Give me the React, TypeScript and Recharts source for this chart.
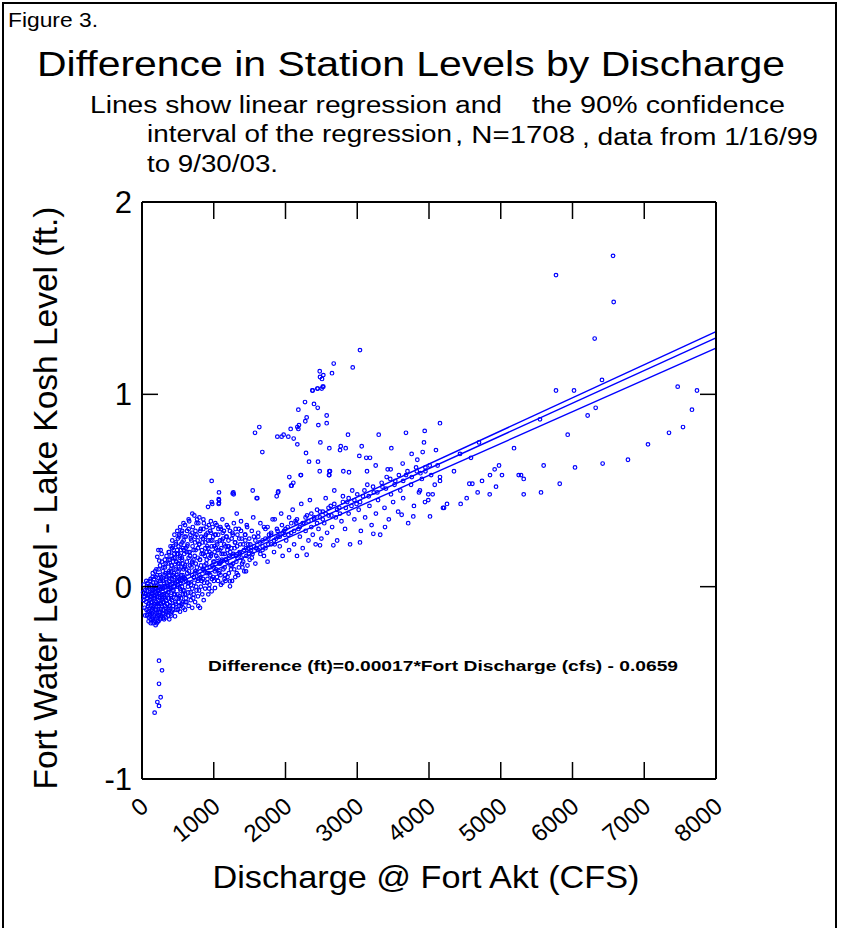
import { ComposedChart, Scatter, Line, XAxis, YAxis } from "recharts";

const xTicks = [0, 1000, 2000, 3000, 4000, 5000, 6000, 7000, 8000];
const yTicks = [-1, 0, 1, 2];

// discharge (cfs), level difference (ft)
const lowTail: [number, number][] = [
  [176, -0.655], [214, -0.6], [237, -0.62], [260, -0.575], [237, -0.505], [279, -0.435], [237, -0.385],
];

const coreRows: [number, number][] = [
  [20, -0.07], [35, -0.11], [15, -0.03], [45, -0.15], [25, 0.01],
  [150, -0.19], [190, -0.2], [205, -0.19], [230, -0.18], [170, -0.18], [120, -0.17], [250, -0.17], [297, -0.163],
  [95, -0.16], [330, -0.16], [380, -0.17], [410, -0.15], [460, -0.154], [270, -0.15], [210, -0.15],
  [80, -0.13], [110, -0.14], [140, -0.12], [160, -0.13], [185, -0.14], [220, -0.12], [255, -0.13], [300, -0.12],
  [340, -0.14], [370, -0.12], [420, -0.13], [500, -0.12], [530, -0.13], [576, -0.11], [600, -0.12], [650, -0.1],
  [700, -0.11], [785, -0.1], [808, -0.11], [540, -0.1],
  [60, -0.08], [90, -0.09], [130, -0.1], [175, -0.09], [200, -0.08], [235, -0.1], [265, -0.09], [290, -0.08],
  [320, -0.1], [355, -0.09], [390, -0.08], [430, -0.1], [470, -0.09], [510, -0.08], [560, -0.09], [620, -0.08],
  [680, -0.07], [740, -0.08], [860, -0.07], [924, -0.04],
  [30, -0.05], [50, -0.04], [75, -0.06], [105, -0.05], [145, -0.04], [180, -0.06], [215, -0.05], [245, -0.04],
  [280, -0.06], [310, -0.05], [345, -0.04], [375, -0.06], [405, -0.05], [445, -0.04], [480, -0.06], [520, -0.05],
  [570, -0.04], [610, -0.06], [660, -0.05], [720, -0.04], [780, -0.05], [840, -0.04], [971, -0.024], [1017, -0.007],
  [40, -0.02], [70, 0.0], [100, -0.01], [135, -0.02], [165, 0.0], [195, -0.01], [225, -0.02], [260, 0.0],
  [295, -0.01], [330, -0.02], [365, 0.0], [400, -0.01], [440, -0.02], [490, 0.0], [530, -0.01], [590, -0.02],
  [640, 0.0], [700, -0.01], [760, -0.02], [820, 0.0], [880, -0.01], [940, 0.01], [1100, 0.01], [1226, 0.002],
  [60, 0.03], [120, 0.04], [155, 0.02], [190, 0.05], [230, 0.03], [270, 0.04], [305, 0.02], [340, 0.05],
  [380, 0.03], [420, 0.04], [460, 0.02], [500, 0.05], [550, 0.03], [600, 0.04], [660, 0.02], [720, 0.05],
  [780, 0.03], [850, 0.04], [910, 0.02], [990, 0.05], [1060, 0.03], [1150, 0.04], [1226, 0.028], [1300, 0.05],
  [150, 0.07], [200, 0.09], [250, 0.06], [290, 0.08], [320, 0.1], [360, 0.07], [400, 0.09], [430, 0.06],
  [470, 0.1], [510, 0.08], [545, 0.06], [580, 0.09], [630, 0.07], [690, 0.1], [740, 0.08], [800, 0.06],
  [860, 0.09], [930, 0.07], [1000, 0.1], [1080, 0.08], [1160, 0.06], [1240, 0.09], [1320, 0.07], [1400, 0.1], [1450, 0.08],
  [213, 0.155], [241, 0.135], [330, 0.12], [370, 0.14], [410, 0.11], [440, 0.15], [480, 0.13], [520, 0.12],
  [560, 0.14], [600, 0.11], [650, 0.15], [700, 0.13], [750, 0.12], [810, 0.14], [870, 0.11], [940, 0.15],
  [1010, 0.13], [1090, 0.12], [1170, 0.14], [1250, 0.11], [1330, 0.15], [1410, 0.13], [1500, 0.14], [1580, 0.12],
  [228, 0.19], [260, 0.19], [274, 0.17], [380, 0.18], [420, 0.2], [450, 0.17], [490, 0.19], [530, 0.16],
  [570, 0.2], [620, 0.18], [670, 0.16], [720, 0.19], [780, 0.2], [830, 0.17], [900, 0.18], [960, 0.16],
  [1030, 0.2], [1110, 0.17], [1190, 0.19], [1270, 0.16], [1360, 0.18], [1450, 0.2], [1540, 0.17], [1620, 0.19], [1700, 0.16],
];

const coreFill: [number, number][] = [
  [115, -0.15], [125, -0.08], [135, -0.03], [145, -0.16], [155, -0.11], [165, -0.06], [175, -0.01], [185, -0.17],
  [195, -0.12], [205, -0.04], [215, 0.01], [225, -0.09], [235, -0.15], [245, -0.02], [255, 0.03], [265, -0.12],
  [275, -0.07], [285, 0.0], [295, -0.14], [305, -0.04], [315, 0.06], [325, -0.11], [335, -0.07], [345, 0.02],
  [355, -0.13], [365, -0.03], [375, 0.08], [385, -0.1], [395, 0.04], [405, -0.06], [415, 0.11], [425, -0.02],
  [435, -0.12], [445, 0.07], [455, 0.0], [465, -0.08], [475, 0.13], [485, 0.03], [495, -0.04], [505, 0.17],
  [515, -0.1], [525, 0.09], [535, 0.02], [545, -0.06], [555, 0.15], [565, 0.06], [575, -0.02], [585, 0.19],
  [595, 0.1], [605, -0.08], [615, 0.03], [625, 0.13], [635, 0.22], [645, -0.03], [655, 0.08], [665, 0.18],
  [675, 0.27], [685, 0.01], [695, 0.12], [705, 0.21], [715, -0.06], [725, 0.05], [735, 0.16], [745, 0.29],
  [755, 0.0], [765, 0.1], [775, 0.24], [785, 0.33], [795, -0.02], [805, 0.14], [815, 0.05], [825, 0.26],
  [835, 0.19], [845, 0.09], [855, 0.3], [865, 0.02], [875, 0.16], [885, 0.23], [895, 0.12], [905, 0.07],
  [915, 0.28], [925, 0.2], [935, -0.01], [945, 0.1], [955, 0.24], [965, 0.17], [975, 0.04], [985, 0.31],
  [995, 0.13], [1005, 0.21], [1015, 0.08], [1025, 0.27], [1035, 0.16], [1045, 0.05], [1055, 0.19], [1065, 0.3],
  [1075, 0.12], [1085, 0.24], [1095, 0.06], [1105, 0.2], [1115, 0.14], [1125, 0.28], [1135, 0.09], [1145, 0.22],
  [1155, 0.17], [1165, 0.03], [1175, 0.26], [1185, 0.13], [1195, 0.21], [1210, 0.07], [1230, 0.18], [1250, 0.25],
  [1270, 0.12], [1290, 0.2], [1310, 0.16], [1330, 0.27], [1350, 0.1], [1370, 0.22], [1390, 0.15], [1420, 0.19],
  [1440, 0.24], [1470, 0.11], [1490, 0.17],
];

const coreDense: [number, number][] = [
  [62, -0.12], [68, -0.02], [72, -0.15], [78, 0.02], [85, -0.1], [88, -0.04], [92, -0.18], [98, 0.0],
  [102, -0.13], [108, -0.07], [112, 0.03], [118, -0.11], [122, -0.19], [128, -0.05], [132, 0.01], [138, -0.14],
  [142, -0.08], [148, 0.05], [152, -0.17], [158, -0.02], [162, -0.1], [168, 0.04], [172, -0.15], [178, -0.05],
  [182, 0.08], [188, -0.12], [192, -0.03], [198, 0.02], [202, -0.16], [208, -0.09], [212, 0.06], [218, -0.02],
  [222, -0.18], [228, -0.07], [232, 0.09], [238, 0.0], [242, -0.13], [248, -0.06], [252, 0.11], [258, -0.01],
  [262, -0.16], [268, 0.05], [272, -0.1], [278, 0.13], [282, -0.04], [288, -0.14], [292, 0.03], [298, 0.1],
  [302, -0.08], [308, -0.17], [312, 0.0], [318, 0.14], [322, -0.06], [328, 0.07], [332, -0.13], [338, 0.04],
  [342, 0.16], [348, -0.09], [352, 0.01], [358, 0.12], [362, -0.15], [368, -0.03], [372, 0.18], [378, 0.06],
  [382, -0.11], [388, 0.14], [392, 0.0], [398, 0.21],
  [402, -0.14], [408, 0.08], [412, 0.16], [418, -0.07], [422, 0.24], [428, 0.02], [432, 0.13], [438, -0.1],
  [442, 0.19], [448, 0.05], [452, 0.27], [458, -0.04], [462, 0.15], [468, 0.09], [472, 0.22], [478, -0.12],
  [482, 0.06], [488, 0.17], [492, 0.29], [498, 0.01], [502, 0.12], [508, 0.21], [512, -0.06], [518, 0.26],
  [522, 0.04], [528, 0.15], [532, 0.31], [538, -0.02], [542, 0.19], [548, 0.1], [552, 0.28], [558, 0.0],
  [562, 0.23], [568, 0.12], [572, -0.08], [578, 0.33], [582, 0.05], [588, 0.17], [592, 0.26], [598, -0.04],
  [608, 0.2], [618, 0.09], [628, 0.29], [638, 0.02], [648, 0.18], [658, 0.34], [668, 0.11], [678, -0.03],
  [688, 0.24], [698, 0.06], [708, 0.31], [718, 0.14], [728, 0.02], [738, 0.26], [748, 0.19], [758, 0.08],
  [768, 0.35], [778, 0.15], [788, 0.04], [798, 0.22],
  [812, 0.29], [822, 0.11], [832, 0.03], [842, 0.23], [852, 0.17], [862, 0.33], [872, 0.08], [882, 0.2],
  [892, 0.27], [902, 0.14], [912, 0.04], [922, 0.24], [932, 0.32], [942, 0.18], [952, 0.06], [962, 0.28],
  [972, 0.21], [982, 0.11], [992, 0.26], [1002, 0.03], [1012, 0.18], [1022, 0.33], [1032, 0.09], [1042, 0.23],
  [1052, 0.15], [1062, 0.27], [1072, 0.07], [1082, 0.19], [1092, 0.31], [1102, 0.13], [1112, 0.24], [1122, 0.02],
  [1132, 0.17], [1142, 0.29], [1152, 0.1], [1162, 0.21], [1172, 0.14], [1182, 0.32], [1192, 0.05], [1205, 0.24],
  [1215, 0.16], [1225, 0.29], [1235, 0.11], [1245, 0.2], [1255, 0.03], [1265, 0.27], [1275, 0.17], [1285, 0.09],
  [1295, 0.23], [1305, 0.3], [1315, 0.13], [1325, 0.21], [1340, 0.06], [1355, 0.25], [1365, 0.17], [1380, 0.29],
  [1395, 0.12], [1410, 0.22], [1425, 0.08], [1435, 0.27], [1455, 0.16], [1465, 0.31], [1480, 0.2], [1495, 0.25],
];

const upperBranch: [number, number][] = [
  [430, 0.21], [470, 0.23], [500, 0.25], [540, 0.22], [580, 0.24], [630, 0.21], [680, 0.25], [740, 0.23],
  [800, 0.22], [850, 0.25], [910, 0.21], [980, 0.24], [1050, 0.22], [1130, 0.25], [1210, 0.21], [1300, 0.23],
  [1390, 0.25], [1480, 0.22], [1580, 0.24], [1680, 0.21], [1760, 0.25], [1850, 0.22],
  [520, 0.27], [560, 0.29], [610, 0.26], [650, 0.3], [700, 0.28], [760, 0.27], [820, 0.3], [880, 0.26],
  [950, 0.29], [1020, 0.27], [1100, 0.3], [1180, 0.26], [1260, 0.28], [1350, 0.3], [1440, 0.27], [1530, 0.29],
  [1620, 0.26], [1720, 0.3], [1800, 0.28], [1900, 0.26], [1980, 0.29],
  [600, 0.32], [650, 0.35], [701, 0.38], [729, 0.37], [760, 0.33], [800, 0.36], [855, 0.35], [900, 0.31],
  [960, 0.34], [1040, 0.32], [1120, 0.35], [1200, 0.31], [1280, 0.33], [1320, 0.38], [1380, 0.34], [1460, 0.32],
  [1550, 0.36], [1650, 0.33], [1750, 0.31], [1850, 0.35], [1950, 0.32], [2050, 0.36], [2150, 0.33],
  [971, 0.55], [1073, 0.49], [1278, 0.48], [1073, 0.45], [1073, 0.435], [971, 0.44], [979, 0.43], [920, 0.415],
  [1069, 0.455], [1069, 0.43], [1264, 0.485], [1543, 0.5], [1607, 0.46], [1598, 0.46], [1273, 0.49], [1900, 0.495],
  [1877, 0.47], [1895, 0.49],
];

const midBand: [number, number][] = [
  [1510, 0.22], [1530, 0.15], [1560, 0.26], [1590, 0.2], [1620, 0.28], [1650, 0.17], [1680, 0.24], [1700, 0.31],
  [1720, 0.2], [1750, 0.13], [1770, 0.27], [1800, 0.22], [1820, 0.35], [1840, 0.18], [1870, 0.25], [1890, 0.29],
  [1920, 0.21], [1940, 0.38], [1960, 0.16], [1990, 0.27],
  [2010, 0.24], [2030, 0.31], [2050, 0.19], [2080, 0.28], [2100, 0.4], [2120, 0.22], [2140, 0.34], [2160, 0.16],
  [2180, 0.3], [2200, 0.26], [2220, 0.43], [2240, 0.2], [2260, 0.33], [2280, 0.29], [2300, 0.37], [2320, 0.24],
  [2340, 0.45], [2360, 0.31], [2380, 0.27], [2400, 0.35], [2420, 0.22], [2440, 0.4], [2460, 0.3], [2480, 0.36], [2500, 0.25],
  [2520, 0.39], [2540, 0.33], [2560, 0.46], [2580, 0.28], [2600, 0.37], [2630, 0.42], [2650, 0.31], [2680, 0.5],
  [2700, 0.36], [2720, 0.24], [2750, 0.41], [2780, 0.34], [2800, 0.47], [2830, 0.3], [2860, 0.44], [2880, 0.38],
  [2900, 0.22], [2930, 0.5], [2960, 0.35], [2990, 0.43],
  [3020, 0.4], [3050, 0.29], [3080, 0.47], [3110, 0.36], [3140, 0.53], [3170, 0.42], [3200, 0.32], [3230, 0.49],
  [3260, 0.38], [3290, 0.45], [3320, 0.27], [3350, 0.52], [3380, 0.41], [3410, 0.57], [3440, 0.35], [3470, 0.48], [3500, 0.44],
  [3530, 0.55], [3570, 0.39], [3600, 0.5], [3640, 0.46], [3680, 0.58], [3710, 0.33], [3750, 0.53], [3790, 0.42],
  [3830, 0.6], [3860, 0.49], [3900, 0.56], [3950, 0.62], [3990, 0.45], [4030, 0.58], [4080, 0.53], [4120, 0.63],
  [1520, 0.19], [1560, 0.21], [1600, 0.2], [1640, 0.23], [1680, 0.19], [1720, 0.25], [1760, 0.22], [1800, 0.27],
  [1840, 0.24], [1880, 0.3], [1920, 0.26], [1960, 0.28], [2000, 0.3], [2040, 0.27], [2080, 0.33], [2120, 0.29],
  [2160, 0.35], [2200, 0.31], [2240, 0.33], [2280, 0.36], [2320, 0.34], [2360, 0.38], [2400, 0.36], [2440, 0.33],
  [2480, 0.39], [2520, 0.35], [2560, 0.38], [2600, 0.41], [2640, 0.37], [2680, 0.43], [2720, 0.4], [2760, 0.38],
  [2800, 0.44], [2840, 0.41], [2880, 0.46], [2920, 0.42], [2960, 0.45], [3000, 0.48], [3040, 0.44], [3100, 0.5],
  [3160, 0.47], [3220, 0.52], [3280, 0.49], [3340, 0.54], [3400, 0.51], [3460, 0.56], [3520, 0.53], [3580, 0.58],
  [3640, 0.55], [3700, 0.6], [3760, 0.57], [3820, 0.62], [3880, 0.59], [3950, 0.6], [4010, 0.63],
  [4195, 0.41], [4014, 0.365], [3781, 0.365], [3619, 0.374], [3387, 0.31], [3224, 0.275], [3038, 0.23], [2667, 0.215],
  [2481, 0.215], [2295, 0.166],
];

const midOutliers: [number, number][] = [
  [2379, 1.02], [2449, 1.03], [2519, 1.04], [2272, 0.96], [2397, 0.95], [2449, 0.93], [2179, 0.92], [2295, 0.88],
  [2276, 0.86], [2188, 0.84], [2165, 0.83], [2179, 0.82], [2072, 0.82], [2574, 0.89], [2574, 0.85], [2458, 0.84],
  [1635, 0.83], [1575, 0.8], [1886, 0.78], [1946, 0.78], [1974, 0.79], [2039, 0.78], [2114, 0.77], [2165, 0.74],
  [2486, 0.75], [2611, 0.72], [2770, 0.73], [2839, 0.72], [3062, 0.73], [2871, 0.79], [3299, 0.79], [3038, 1.23],
  [2672, 1.16], [2937, 1.14], [2477, 1.12], [2648, 1.11], [2527, 1.1], [2481, 1.09], [2509, 1.08], [2527, 1.04],
  [2444, 1.03], [2505, 1.03], [2374, 1.02], [1677, 0.7], [2286, 0.695], [2760, 0.71], [3029, 0.68], [3126, 0.67],
  [3178, 0.67], [3475, 0.72], [3679, 0.8], [3940, 0.81], [3930, 0.75], [4097, 0.71], [4153, 0.85], [3837, 0.66],
  [3912, 0.7], [3758, 0.69], [3633, 0.64], [3424, 0.61], [3466, 0.61], [3257, 0.63], [3136, 0.6], [2806, 0.6],
  [2885, 0.595], [2611, 0.6], [2611, 0.58], [2477, 0.6], [2216, 0.58], [2053, 0.57], [2109, 0.54], [2077, 0.525],
  [2211, 0.58], [2086, 0.525], [2328, 0.65], [2453, 0.65], [2620, 0.6], [2606, 0.58],
];

const highDischarge: [number, number][] = [
  [6565, 1.72], [5770, 1.62], [6574, 1.48], [6309, 1.29], [6411, 1.075], [5770, 1.02], [6021, 1.02], [7466, 1.04],
  [7735, 1.02], [7665, 0.92], [7540, 0.83], [7345, 0.8], [7052, 0.74], [6773, 0.66], [6420, 0.64], [6323, 0.93],
  [6211, 0.89], [5933, 0.79], [6035, 0.62], [5822, 0.535], [5598, 0.63], [5561, 0.49], [5547, 0.87], [5320, 0.48],
  [5320, 0.56], [5250, 0.58], [5283, 0.58], [5185, 0.72], [5017, 0.58], [4976, 0.63], [4915, 0.61], [4934, 0.52],
  [4850, 0.58], [4846, 0.48], [4739, 0.55], [4678, 0.49], [4697, 0.75], [4562, 0.535], [4604, 0.535], [4585, 0.67],
  [4525, 0.46], [4441, 0.43], [4348, 0.6], [4432, 0.69], [4251, 0.43], [4209, 0.41], [3990, 0.48], [4051, 0.48],
  [3944, 0.44], [3874, 0.5], [4153, 0.57], [4153, 0.55],
];

// regression and its 90% confidence band, end points
const regX = [0, 8000];
const regFit = [-0.0659, 1.2941];
const regUpper = [-0.05, 1.326];
const regLower = [-0.082, 1.24];

const points = [
  ...lowTail, ...coreRows, ...coreFill, ...coreDense, ...upperBranch, ...midBand, ...midOutliers, ...highDischarge,
].map(([x, y]) => ({ x, y }));
const toLine = (ys: number[]) => regX.map((x, i) => ({ x, y: ys[i] }));

const FONT = "'Liberation Sans', Arial, sans-serif";
const BLUE = "#0000ff";
const TICK = 17;

function Ring(props: any) {
  const { cx, cy } = props;
  if (cx == null || cy == null) return <g />;
  return <circle cx={cx} cy={cy} r={1.8} fill="none" stroke={BLUE} strokeWidth={1.2} />;
}

// tick marks point into the plot, labels sit outside
function BottomTick({ x, y, payload }: any) {
  return (
    <g>
      <line x1={x} x2={x} y1={y} y2={y - TICK} stroke="#000" strokeWidth={1.5} />
      <text
        transform={`translate(${x + 8},${y + 30}) rotate(-40)`}
        textAnchor="end"
        fontSize={24}
        fontFamily={FONT}
        fill="#000"
      >
        {payload.value}
      </text>
    </g>
  );
}

function TopTick({ x, y }: any) {
  return <line x1={x} x2={x} y1={y} y2={y + TICK} stroke="#000" strokeWidth={1.5} />;
}

function LeftTick({ x, y, payload }: any) {
  return (
    <g>
      <line x1={x} x2={x + 16} y1={y} y2={y} stroke="#000" strokeWidth={1.5} />
      <text x={x - 10} y={y} dy="0.36em" textAnchor="end" fontSize={31} fontFamily={FONT} fill="#000">
        {payload.value}
      </text>
    </g>
  );
}

function RightTick({ x, y }: any) {
  return <line x1={x} x2={x - 16} y1={y} y2={y} stroke="#000" strokeWidth={1.5} />;
}

const axisLine = { stroke: "#000", strokeWidth: 2 };

export default function App() {
  return (
    <div style={{ position: "absolute", left: 0, top: 0, width: 841, height: 928, background: "#fff", overflow: "hidden" }}>
      <div
        style={{
          position: "absolute",
          left: 2,
          top: 2,
          width: 835,
          height: 926,
          boxSizing: "border-box",
          border: "2px solid #000",
          borderBottom: "none",
        }}
      />
      <ComposedChart width={841} height={928} margin={{ top: 201, right: 124, bottom: 89, left: 82 }}>
        <XAxis
          xAxisId="b"
          type="number"
          dataKey="x"
          domain={[0, 8000]}
          ticks={xTicks}
          interval={0}
          height={60}
          axisLine={axisLine}
          tickLine={false}
          tickSize={0}
          tickMargin={0}
          tick={<BottomTick />}
        />
        <XAxis
          xAxisId="t"
          orientation="top"
          type="number"
          dataKey="x"
          domain={[0, 8000]}
          ticks={xTicks}
          interval={0}
          height={1}
          axisLine={axisLine}
          tickLine={false}
          tickSize={0}
          tickMargin={0}
          tick={<TopTick />}
        />
        <YAxis
          yAxisId="l"
          type="number"
          dataKey="y"
          domain={[-1, 2]}
          ticks={yTicks}
          interval={0}
          width={60}
          axisLine={axisLine}
          tickLine={false}
          tickSize={0}
          tickMargin={0}
          tick={<LeftTick />}
        />
        <YAxis
          yAxisId="r"
          orientation="right"
          type="number"
          dataKey="y"
          domain={[-1, 2]}
          ticks={yTicks}
          interval={0}
          width={1}
          axisLine={axisLine}
          tickLine={false}
          tickSize={0}
          tickMargin={0}
          tick={<RightTick />}
        />
        <Scatter
          xAxisId="b"
          yAxisId="l"
          data={points}
          shape={(p: any) => <Ring {...p} />}
          isAnimationActive={false}
        />
        <Line
          xAxisId="b"
          yAxisId="l"
          data={toLine(regUpper)}
          dataKey="y"
          type="linear"
          stroke={BLUE}
          strokeWidth={1.4}
          dot={false}
          activeDot={false}
          isAnimationActive={false}
        />
        <Line
          xAxisId="b"
          yAxisId="l"
          data={toLine(regLower)}
          dataKey="y"
          type="linear"
          stroke={BLUE}
          strokeWidth={1.4}
          dot={false}
          activeDot={false}
          isAnimationActive={false}
        />
        {/* the fit line sits on the mirror axes (same domains) so the frame axes get their ticks */}
        <Line
          xAxisId="t"
          yAxisId="r"
          data={toLine(regFit)}
          dataKey="y"
          type="linear"
          stroke={BLUE}
          strokeWidth={1.4}
          dot={false}
          activeDot={false}
          isAnimationActive={false}
        />
      </ComposedChart>
      <svg
        width={841}
        height={928}
        style={{ position: "absolute", left: 0, top: 0, pointerEvents: "none" }}
        fontFamily={FONT}
      >
        <text x={8} y={27} fontSize={19.5} textLength={90} lengthAdjust="spacingAndGlyphs">Figure 3.</text>
        <text x={37} y={76} fontSize={35} textLength={748} lengthAdjust="spacingAndGlyphs">
          Difference in Station Levels by Discharge
        </text>
        <text x={90} y={113} fontSize={23} textLength={412} lengthAdjust="spacingAndGlyphs">
          Lines show linear regression and
        </text>
        <text x={532} y={113} fontSize={23} textLength={253} lengthAdjust="spacingAndGlyphs">
          the 90% confidence
        </text>
        <text x={147} y={142} fontSize={23} textLength={305} lengthAdjust="spacingAndGlyphs">
          interval of the regression
        </text>
        <text x={455} y={143} fontSize={23} textLength={120} lengthAdjust="spacingAndGlyphs">, N=1708</text>
        <text x={582} y={145} fontSize={23} textLength={236} lengthAdjust="spacingAndGlyphs">
          , data from 1/16/99
        </text>
        <text x={147} y={172} fontSize={23} textLength={131} lengthAdjust="spacingAndGlyphs">to 9/30/03.</text>
        <text x={208} y={671} fontSize={14.5} fontWeight="bold" textLength={470} lengthAdjust="spacingAndGlyphs">
          Difference (ft)=0.00017*Fort Discharge (cfs) - 0.0659
        </text>
        <text
          transform="translate(57,498) rotate(-90)"
          textAnchor="middle"
          fontSize={34}
          textLength={583}
          lengthAdjust="spacingAndGlyphs"
        >
          Fort Water Level - Lake Kosh Level (ft.)
        </text>
        <text x={426} y={888} textAnchor="middle" fontSize={32} textLength={427} lengthAdjust="spacingAndGlyphs">
          Discharge @ Fort Akt (CFS)
        </text>
      </svg>
    </div>
  );
}
